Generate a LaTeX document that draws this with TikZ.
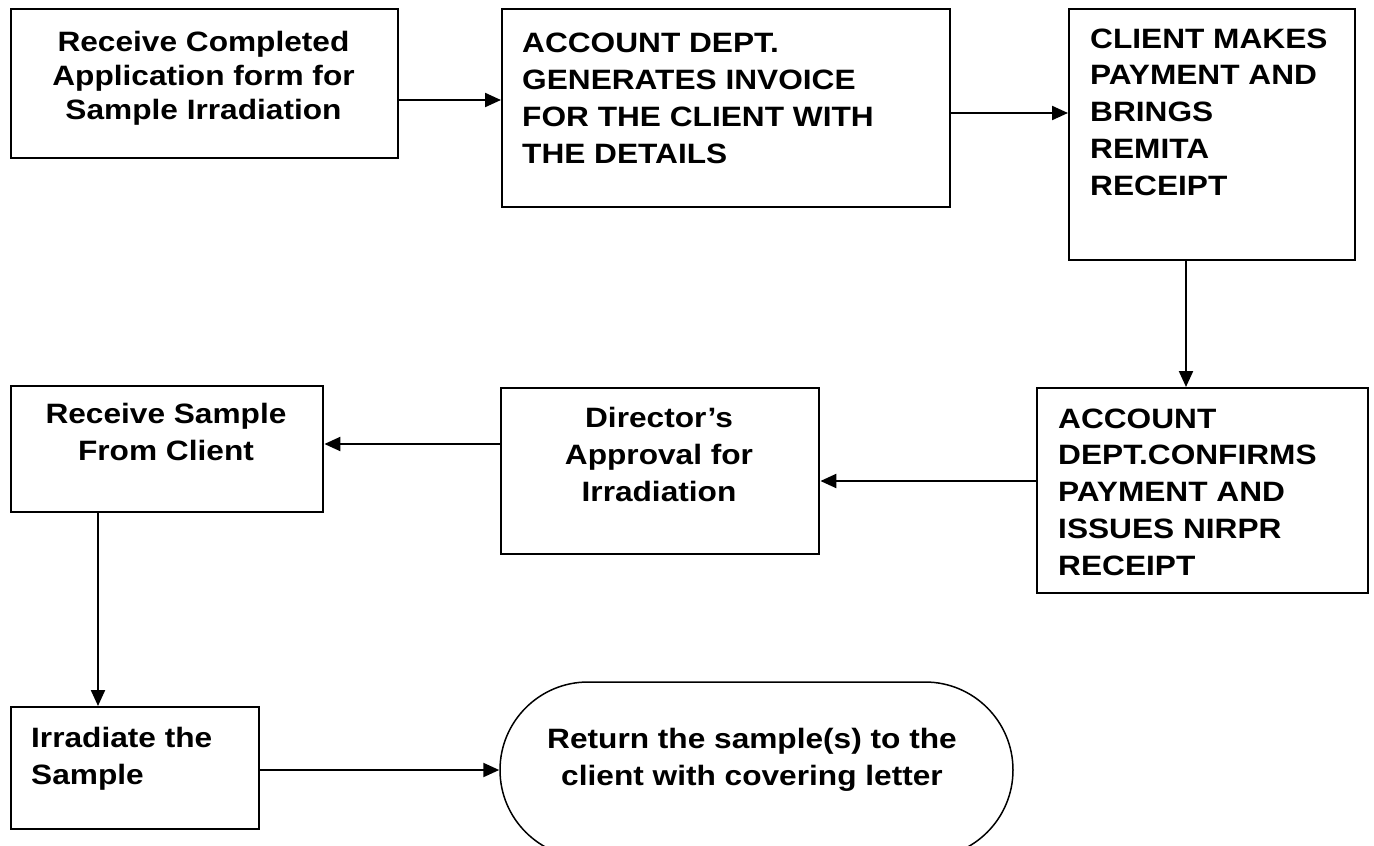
\documentclass[tikz,border=0pt]{standalone}
\usepackage{fontspec}
\setmainfont{Liberation Sans}[FakeStretch=1.13]
\usetikzlibrary{arrows.meta,shapes.misc}
\begin{document}
\begin{tikzpicture}[x=1pt,y=-1pt,
  flowbox/.style={draw=black, line width=2.4pt, rectangle, inner sep=0pt, anchor=north west},
  endbox/.style={draw=black, line width=1.5pt, rounded rectangle, inner sep=0pt,
                 minimum width=513pt, minimum height=176pt},
  boxtext/.style={font=\fontsize{28}{36.7}\selectfont\bfseries, inner sep=0pt},
  lefttext/.style={boxtext, align=left, anchor=base west},
  midtext/.style={boxtext, align=center, anchor=base},
  arr/.style={line width=2.2pt, -{Triangle[length=16pt,width=14pt]}}]

\useasboundingbox (0,0) rectangle (1374,846);
\clip (0,0) rectangle (1374,846);

% process boxes
\node[flowbox, minimum width=387pt, minimum height=149pt] (b1) at (10,8) {};
\node[flowbox, minimum width=448pt, minimum height=198pt] (b2) at (501,8) {};
\node[flowbox, minimum width=286pt, minimum height=251pt] (b3) at (1068,8) {};
\node[flowbox, minimum width=331pt, minimum height=205pt] (b4) at (1036,387) {};
\node[flowbox, minimum width=318pt, minimum height=166pt] (b5) at (500,387) {};
\node[flowbox, minimum width=312pt, minimum height=126pt] (b6) at (10,385) {};
\node[flowbox, minimum width=248pt, minimum height=122pt] (b7) at (10,706) {};
\node[endbox] (rt) at (756.5,770) {};

% box texts (each anchored on the baseline of its last line)
\node[midtext, font=\fontsize{28}{34}\selectfont\bfseries] (t1) at (203.5,119)
  {Receive Completed\\Application form for\\Sample Irradiation};
\node[lefttext] (t2) at (522,163)
  {ACCOUNT DEPT.\\GENERATES INVOICE\\FOR THE CLIENT WITH\\THE DETAILS};
\node[lefttext] (t3) at (1090,195)
  {CLIENT MAKES\\PAYMENT AND\\BRINGS\\REMITA\\RECEIPT};
\node[lefttext] (t4) at (1058,575)
  {ACCOUNT\\DEPT.CONFIRMS\\PAYMENT AND\\ISSUES NIRPR\\RECEIPT};
\node[midtext] (t5) at (659,501)
  {Director’s\\Approval for\\Irradiation};
\node[midtext] (t6) at (166,460)
  {Receive Sample\\From Client};
\node[lefttext] (t7) at (31,784)
  {Irradiate the\\Sample};
\node[midtext] (t8) at (752,785)
  {Return the sample(s) to the\\client with covering letter};

% connectors
\draw[arr] (b1.east |- 0,100) -- (b2.west |- 0,100);
\draw[arr] (b2.east |- 0,113) -- (b3.west |- 0,113);
\draw[arr] (b3.south -| 1186,0) -- (b4.north -| 1186,0);
\draw[arr] (b4.west |- 0,481) -- (b5.east |- 0,481);
\draw[arr] (b5.west |- 0,444) -- (b6.east |- 0,444);
\draw[arr] (b6.south -| 98,0) -- (b7.north -| 98,0);
\draw[arr] (b7.east |- rt.west) -- (rt.west);
\end{tikzpicture}
\end{document}
